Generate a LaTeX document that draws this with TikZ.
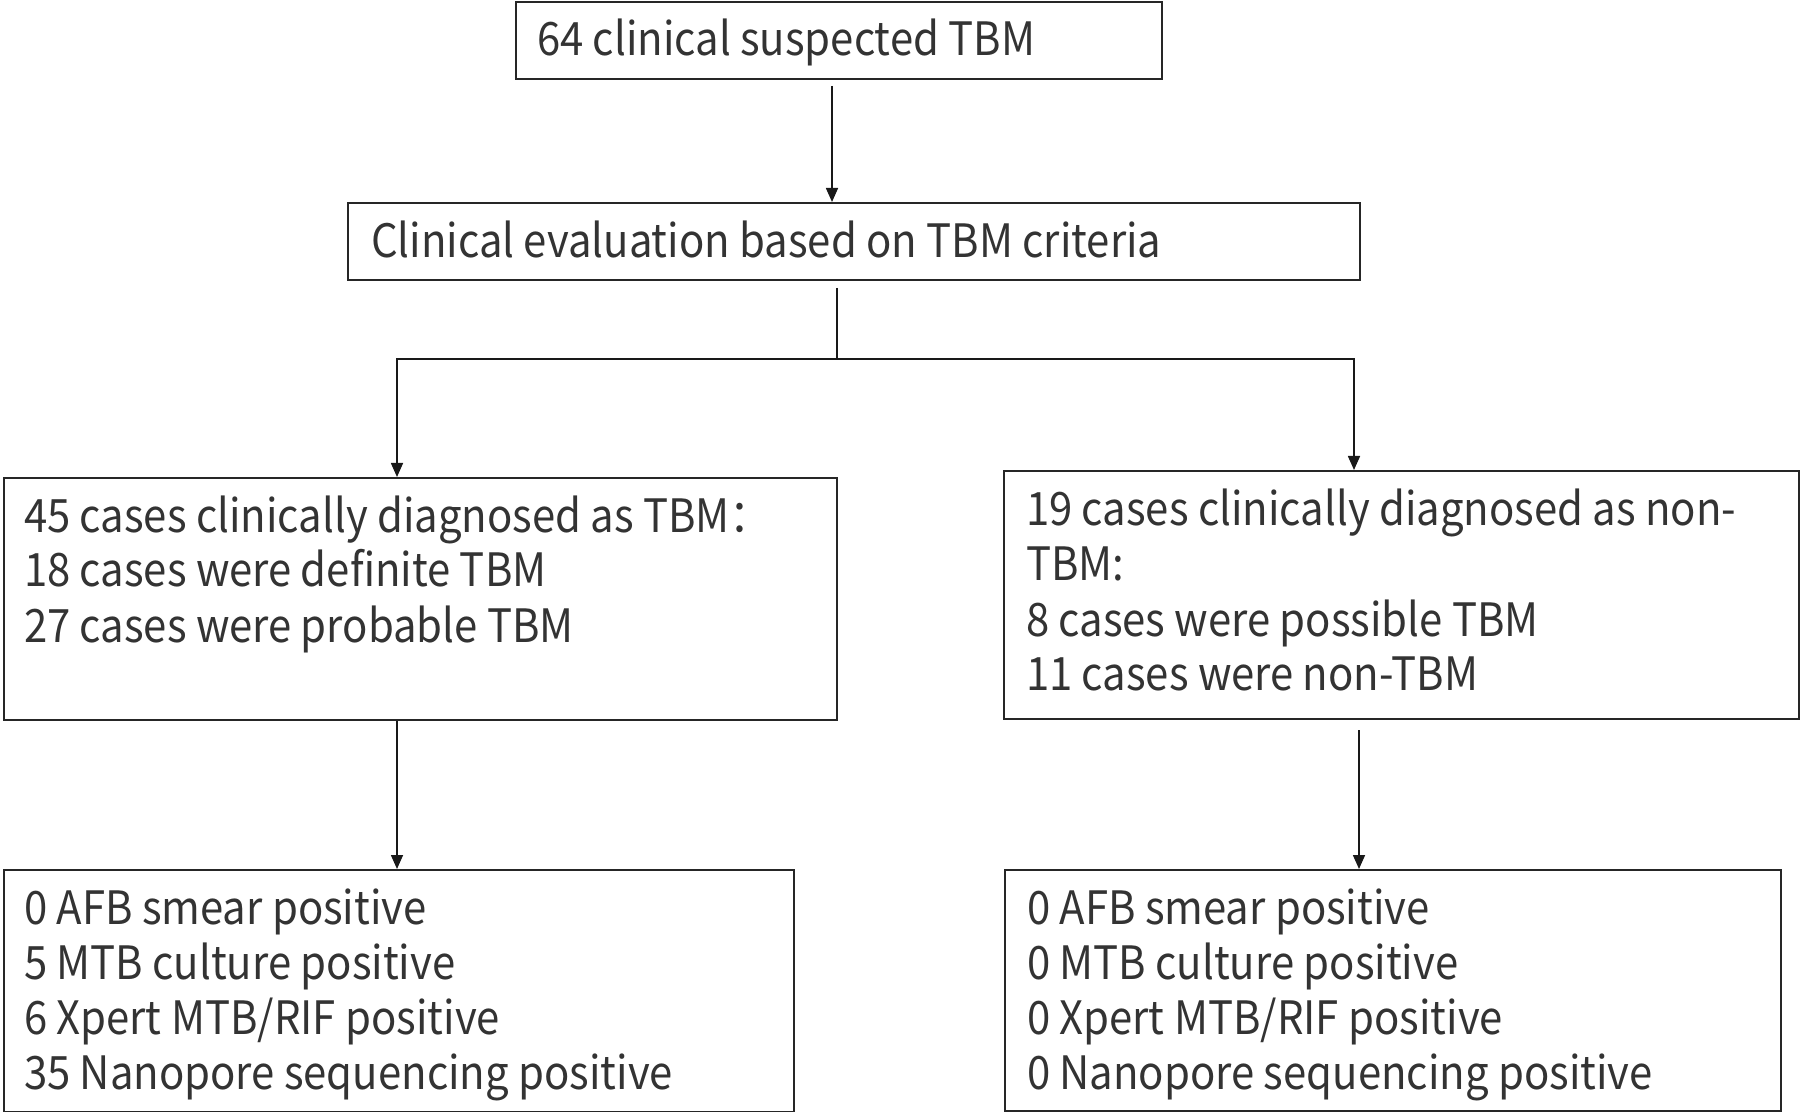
\documentclass[tikz,border=0pt]{standalone}
\usepackage{fontspec}
\setmainfont[FakeStretch=0.91]{Noto Sans CJK SC}
\usetikzlibrary{arrows.meta}
\newcommand\bxt[5]{\parbox[c][#2][t]{#1}{\raggedright\leftskip=#3\relax\fontsize{23pt}{27.5pt}\selectfont\rule{0pt}{#4}#5}}
\tikzset{
  box/.style={draw=black!85, line width=1pt, inner sep=0pt, anchor=north west, text=black!80},
  ln/.style={draw=black!90, line width=0.8pt},
  arr/.style={ln, -{Triangle[length=7pt,width=6pt]}}
}
\begin{document}
\begin{tikzpicture}[x=0.5pt,y=-0.5pt]
\useasboundingbox (0,0) rectangle (1800,1112);
\node[box] (b1) at (515,1) {\bxt{323pt}{38.5pt}{10.5pt}{27pt}{64 clinical suspected TBM}};
\node[box] (b2) at (347,202) {\bxt{506pt}{38.5pt}{11.5pt}{27.5pt}{Clinical evaluation based on TBM criteria}};
\node[box] (b3L) at (3,477) {\bxt{416.5pt}{121pt}{10pt}{27pt}{45 cases clinically diagnosed as TBM：\\18 cases were definite TBM\\27 cases were probable TBM}};
\node[box] (b3R) at (1003,470) {\bxt{397.5pt}{124pt}{11pt}{27.5pt}{19 cases clinically diagnosed as non-\\TBM:\\8 cases were possible TBM\\11 cases were non-TBM}};
\node[box] (b4L) at (3,869) {\bxt{395pt}{121pt}{10pt}{27pt}{0 AFB smear positive\\5 MTB culture positive\\6 Xpert MTB/RIF positive\\35 Nanopore sequencing positive}};
\node[box] (b4R) at (1004,869) {\bxt{388pt}{120.5pt}{11pt}{27pt}{0 AFB smear positive\\0 MTB culture positive\\0 Xpert MTB/RIF positive\\0 Nanopore sequencing positive}};
\coordinate (c1) at (832,0);
\coordinate (c2) at (837,0);
\coordinate (split) at (837,359);
\coordinate (lx) at (397,0);
\coordinate (rx) at (1354,0);
\coordinate (rx2) at (1359,0);
\draw[arr] ([yshift=-3pt]b1.south -| c1) -- (b2.north -| c1);
\draw[ln] ([yshift=-3.5pt]b2.south -| c2) -- (split);
\draw[arr] (split) -| (b3L.north -| lx);
\draw[arr] (split) -| (b3R.north -| rx);
\draw[arr] (b3L.south -| lx) -- (b4L.north -| lx);
\draw[arr] ([yshift=-5pt]b3R.south -| rx2) -- (b4R.north -| rx2);
\end{tikzpicture}
\end{document}
